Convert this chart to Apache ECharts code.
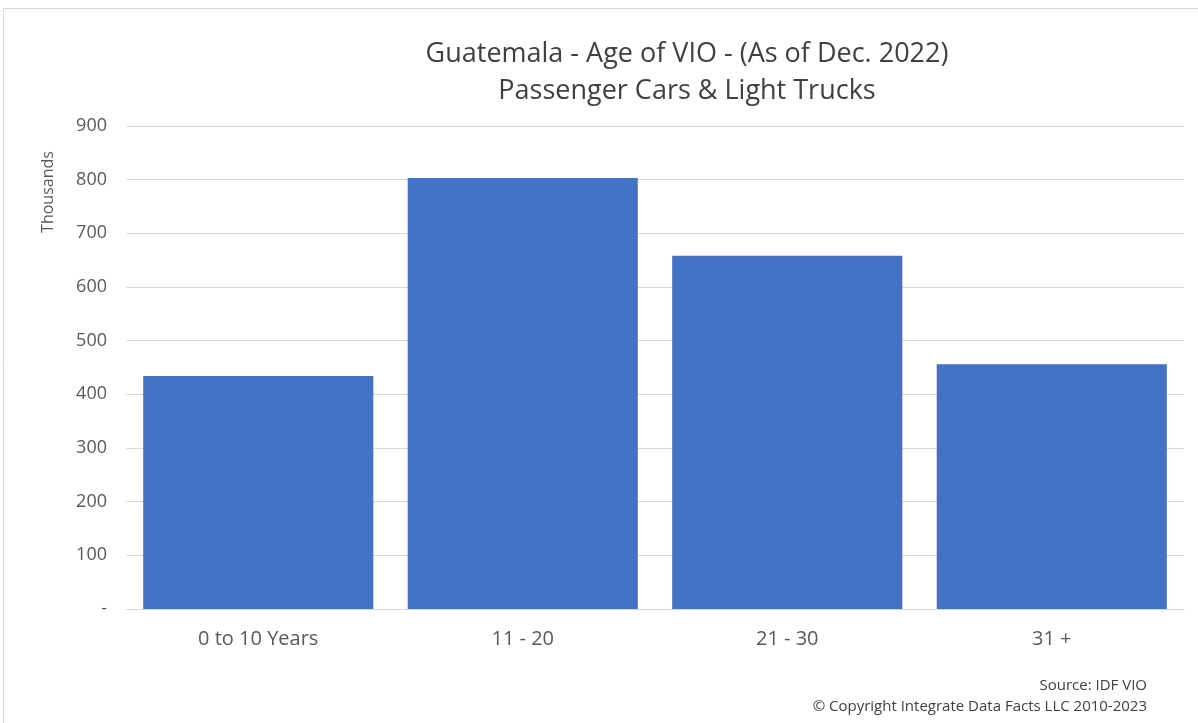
<!DOCTYPE html>
<html><head><meta charset="utf-8">
<script src="https://cdn.jsdelivr.net/npm/echarts@6/dist/echarts.min.js"></script>
<style>html,body{margin:0;padding:0;background:#fff}#c{width:1198px;height:723px}</style>
</head><body><div id="c"></div>
<script>
const categories = ['0 to 10 Years', '11 - 20', '21 - 30', '31 +'];
const values = [434, 803, 658, 456];
const yTicks = { min: 0, max: 900, interval: 100 };
const titleLines = ['Guatemala - Age of VIO - (As of Dec. 2022)', 'Passenger Cars & Light Trucks'];
const yAxisTitle = 'Thousands';
const footLines = ['Source: IDF VIO', '© Copyright Integrate Data Facts LLC 2010-2023'];

const font = "'Open Sans', 'Liberation Sans', sans-serif";
const chart = echarts.init(document.getElementById('c'));
chart.setOption({
  animation: false,
  backgroundColor: '#fff',
  graphic: [
    { type: 'rect', shape: { x: 3.5, y: 8.5, width: 1200, height: 720 }, style: { fill: 'none', stroke: '#d9d9d9', lineWidth: 1 } },
    { type: 'text', x: 687, y: 54, style: { text: titleLines[0], font: '27px ' + font, fill: '#404040', align: 'center', verticalAlign: 'middle' } },
    { type: 'text', x: 687, y: 91, style: { text: titleLines[1], font: '27px ' + font, fill: '#404040', align: 'center', verticalAlign: 'middle' } },
    { type: 'text', x: 48, y: 192, rotation: Math.PI / 2, style: { text: yAxisTitle, font: '16px ' + font, fill: '#595959', align: 'center', verticalAlign: 'middle' } },
    { type: 'text', x: 1147, y: 686, style: { text: footLines[0], font: '15px ' + font, fill: '#404040', align: 'right', verticalAlign: 'middle' } },
    { type: 'text', x: 1147, y: 707, style: { text: footLines[1], font: '15px ' + font, fill: '#404040', align: 'right', verticalAlign: 'middle' } }
  ],
  grid: { left: 126, right: 14, top: 126, bottom: 114 },
  xAxis: {
    type: 'category', data: categories,
    axisLine: { show: true, lineStyle: { color: '#d9d9d9' } },
    axisTick: { show: false },
    axisLabel: { fontFamily: font, fontSize: 20, color: '#595959', margin: 20 }
  },
  yAxis: {
    type: 'value', min: yTicks.min, max: yTicks.max, interval: yTicks.interval,
    axisLine: { show: false }, axisTick: { show: false },
    splitLine: { lineStyle: { color: '#d9d9d9' } },
    axisLabel: { fontFamily: font, fontSize: 18, color: '#595959', margin: 19,
      formatter: v => v === 0 ? '-' : String(v) }
  },
  series: [{
    type: 'bar', data: values, barCategoryGap: '13%',
    itemStyle: { color: '#4472C4' }
  }]
});
</script></body></html>
